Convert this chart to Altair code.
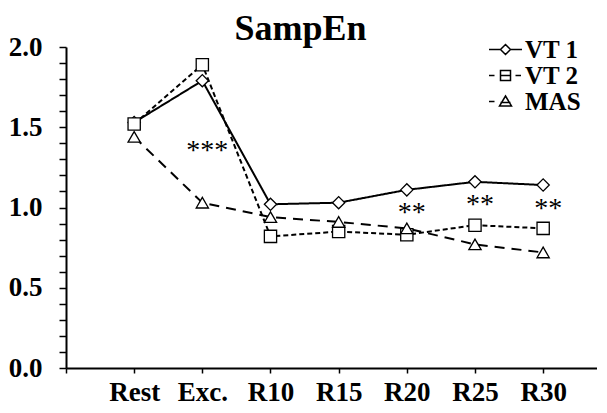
import altair as alt
import pandas as pd

# ---- data ----
categories = ["Rest", "Exc.", "R10", "R15", "R20", "R25", "R30"]
series = ["VT 1", "VT 2", "MAS"]
vt1 = [1.53, 1.79, 1.02, 1.03, 1.11, 1.16, 1.14]
vt2 = [1.52, 1.89, 0.82, 0.85, 0.83, 0.89, 0.87]
mas = [1.44, 1.03, 0.94, 0.91, 0.87, 0.77, 0.72]

ann_cat = ["Exc.", "R20", "R25", "R30"]
ann_y = [1.36, 0.97, 1.02, 1.00]
ann_text = ["***", "**", "**", "**"]

x_tick_labels = [""] + categories

rows = []
for name, vals in zip(series, [vt1, vt2, mas]):
    for i, (c, v) in enumerate(zip(categories, vals)):
        rows.append({"series": name, "cat": c, "pos": i + 1, "value": v})
df = pd.DataFrame(rows)

ann_df = pd.DataFrame({
    "pos": [categories.index(c) + 1 for c in ann_cat],
    "value": ann_y,
    "text": ann_text,
})

FONT = "Liberation Serif"

label_expr = "[" + ",".join("'" + s + "'" for s in x_tick_labels) + "][datum.value]"

x_enc = alt.X(
    "pos:Q",
    scale=alt.Scale(domain=[0, 7.79], nice=False, zero=False),
    axis=alt.Axis(
        values=list(range(8)), labelExpr=label_expr, title=None, grid=False,
        labelFont=FONT, labelFontSize=27, labelFontWeight="bold", labelColor="black",
        tickColor="black", domainColor="black", domainWidth=2, tickWidth=1.5,
        tickSize=5, labelPadding=6, labelFlush=False,
    ),
)
y_enc = alt.Y(
    "value:Q",
    scale=alt.Scale(domain=[0, 2.0], nice=False),
    axis=alt.Axis(
        values=[i / 10 for i in range(21)],
        labelExpr="round(datum.value*10) % 5 == 0 ? format(datum.value, '.1f') : ''",
        title=None, grid=False,
        labelFont=FONT, labelFontSize=27, labelFontWeight="bold", labelColor="black",
        tickColor="black", domainColor="black", domainWidth=2, tickWidth=1.5,
        tickSize=7, labelPadding=17,
    ),
)

dash_scale = alt.Scale(domain=series, range=[[1, 0], [5, 3], [10, 7]])
shape_scale = alt.Scale(domain=series, range=["diamond", "square", "triangle-up"])

lines = alt.Chart(df).mark_line(color="black", strokeWidth=2).encode(
    x=x_enc, y=y_enc,
    strokeDash=alt.StrokeDash("series:N", scale=dash_scale, legend=None),
    detail="series:N",
)

points = alt.Chart(df).mark_point(
    size=150, fill="white", stroke="black", strokeWidth=1.3, opacity=1
).encode(
    x=x_enc, y=y_enc,
    shape=alt.Shape("series:N", scale=shape_scale, legend=None),
)

legend_paths = [
    "M-1.65,0L-0.5,0M0.5,0L1.65,0M0,-0.5L0.5,0L0,0.5L-0.5,0Z",
    "M-1.65,0L-1.1,0M1.0,0L1.55,0M-0.5,-0.5L0.5,-0.5L0.5,0.5L-0.5,0.5ZM-0.5,0L0.5,0",
    "M-1.65,0L-1.1,0M0,-0.55L0.6,0.45L-0.6,0.45ZM-0.5,0.1L0.5,0.1",
]

legend_layer = alt.Chart(df).mark_point(
    filled=False, color="black", strokeWidth=1.5, opacity=0
).encode(
    x=x_enc, y=y_enc,
    shape=alt.Shape(
        "series:N",
        scale=alt.Scale(domain=series, range=legend_paths),
        legend=alt.Legend(
            title=None, orient="none", legendX=427, legendY=-10,
            labelFont=FONT, labelFontSize=25, labelFontWeight="bold",
            labelColor="black", symbolSize=400, symbolStrokeColor="black",
            symbolFillColor="white", symbolStrokeWidth=1.5, labelOffset=7,
            rowPadding=0, symbolOpacity=1,
        ),
    ),
)

ann = alt.Chart(ann_df).mark_text(
    font=FONT, fontSize=28, color="black", baseline="middle", align="center",
    dy=1, dx=5,
).encode(x=x_enc, y=y_enc, text="text:N")

chart = alt.layer(lines, points, ann, legend_layer).resolve_scale(
    shape="independent"
).properties(
    width=531, height=321,
    padding={"top": 3, "left": 0, "right": 0, "bottom": 0},
    title=alt.TitleParams(
        "SampEn", font=FONT, fontSize=36, fontWeight="bold", color="black",
        anchor="middle", offset=-15, dx=-31,
    ),
).configure_view(stroke=None).configure_axis(labelOverlap=False)

chart.save("out.html", embed_options={"renderer": "svg", "actions": False})
